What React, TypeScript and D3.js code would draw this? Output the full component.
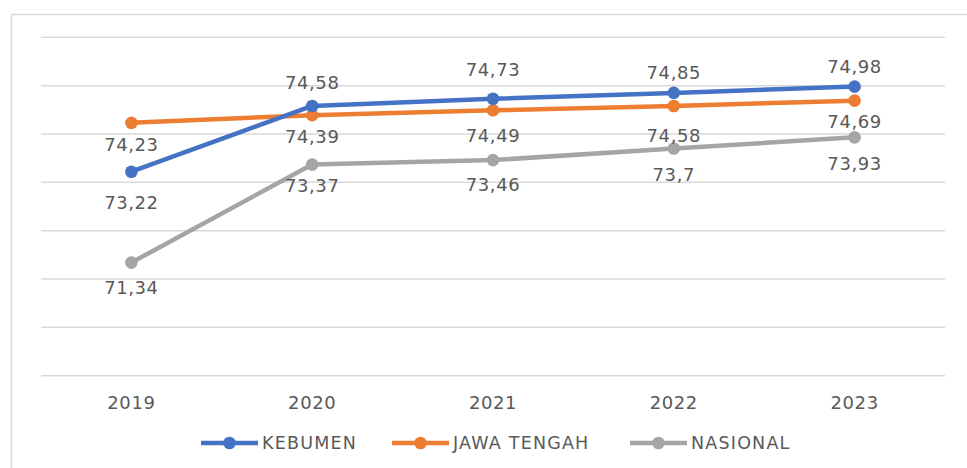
import * as d3 from 'd3';
import { useEffect, useRef } from 'react';

const years = ['2019', '2020', '2021', '2022', '2023'];
const kebumen = [73.22, 74.58, 74.73, 74.85, 74.98];
const jawaTengah = [74.23, 74.39, 74.49, 74.58, 74.69];
const nasional = [71.34, 73.37, 73.46, 73.7, 73.93];
const seriesNames = ['KEBUMEN', 'JAWA TENGAH', 'NASIONAL'];
const gridTicks = [69, 70, 71, 72, 73, 74, 75, 76];

// label offsets (px, label centre relative to the point), as placed in the original
const labelDy = [
  [31, -23, -29, -20, -20],
  [22, 21, 25, 30, 21],
  [25, 21, 24, 26, 26],
];
const colors = ['#4472C4', '#ED7D31', '#A5A5A5'];

export default function App() {
  const ref = useRef<SVGSVGElement>(null);

  useEffect(() => {
    const svg = d3.select(ref.current);
    svg.selectAll('*').remove();

    const width = 967, height = 468;
    const left = 41, right = 945, top = 37.3, bottom = 375.7;
    const font = '"DejaVu Sans", sans-serif';
    const textColor = '#595959';

    // outer frame (cut off at right and bottom like the screenshot)
    svg.append('path')
      .attr('d', `M11.5,${height + 2} V14.5 H${width + 2}`)
      .attr('fill', 'none')
      .attr('stroke', '#D9D9D9')
      .attr('stroke-width', 1.5);

    const x = d3.scalePoint().domain(years).range([left, right]).padding(0.5);
    const y = d3.scaleLinear().domain([69, 76]).range([bottom, top]);

    svg.append('g').selectAll('line')
      .data(gridTicks)
      .enter().append('line')
      .attr('x1', left).attr('x2', right)
      .attr('y1', d => y(d)).attr('y2', d => y(d))
      .attr('stroke', '#D9D9D9')
      .attr('stroke-width', 1.5);

    svg.append('g').selectAll('text')
      .data(years)
      .enter().append('text')
      .attr('x', d => x(d)!)
      .attr('y', 402)
      .attr('text-anchor', 'middle')
      .attr('dominant-baseline', 'central')
      .attr('font-family', font)
      .attr('font-size', 18)
      .attr('letter-spacing', 0.6)
      .attr('fill', textColor)
      .text(d => d);

    const allSeries = [kebumen, jawaTengah, nasional];
    const line = d3.line<number>()
      .x((d, i) => x(years[i])!)
      .y(d => y(d));

    // draw grey first so blue/orange sit on top
    [2, 1, 0].forEach(s => {
      const vals = allSeries[s];
      const g = svg.append('g');
      g.append('path')
        .attr('d', line(vals))
        .attr('fill', 'none')
        .attr('stroke', colors[s])
        .attr('stroke-width', 4.5)
        .attr('stroke-linejoin', 'round');
      g.selectAll('circle')
        .data(vals)
        .enter().append('circle')
        .attr('cx', (d, i) => x(years[i])!)
        .attr('cy', d => y(d))
        .attr('r', 6.3)
        .attr('fill', colors[s]);
    });

    [0, 1, 2].forEach(s => {
      const vals = allSeries[s];
      svg.append('g').selectAll('text')
        .data(vals)
        .enter().append('text')
        .attr('x', (d, i) => x(years[i])!)
        .attr('y', (d, i) => y(d) + labelDy[s][i])
        .attr('text-anchor', 'middle')
        .attr('dominant-baseline', 'central')
        .attr('font-family', font)
        .attr('font-size', 18)
        .attr('letter-spacing', 0.6)
        .attr('fill', textColor)
        .text(d => String(d).replace('.', ','));
    });

    // legend
    const legendX = [201, 392, 630];
    const legendY = 443;
    seriesNames.forEach((name, s) => {
      const g = svg.append('g').attr('transform', `translate(${legendX[s]},${legendY})`);
      g.append('line')
        .attr('x1', 0).attr('x2', 57)
        .attr('stroke', colors[s])
        .attr('stroke-width', 4.5);
      g.append('circle')
        .attr('cx', 28.5)
        .attr('r', 6.3)
        .attr('fill', colors[s]);
      g.append('text')
        .attr('x', 61)
        .attr('dominant-baseline', 'central')
        .attr('font-family', font)
        .attr('font-size', 17.5)
        .attr('letter-spacing', 1.2)
        .attr('fill', textColor)
        .text(name);
    });
  }, []);

  return (
    <div style={{ position: 'absolute', left: 0, top: 0, background: '#fff' }}>
      <svg ref={ref} width={967} height={468} style={{ display: 'block' }}></svg>
    </div>
  );
}
